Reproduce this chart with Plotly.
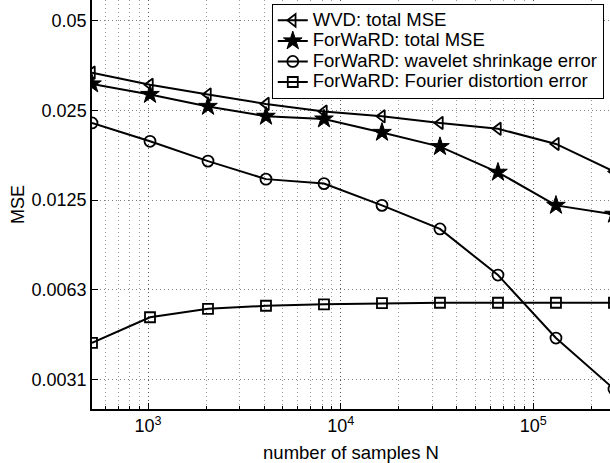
import math
import plotly.graph_objects as go

# Number of samples N (powers of two)
n_samples = [512, 1024, 2048, 4096, 8192, 16384, 32768, 65536, 131072, 262144]

# Mean squared error curves
wvd_total = [0.0335, 0.0305, 0.0283, 0.0263, 0.0248, 0.0239, 0.0227, 0.0217, 0.0193, 0.0156]
forward_total = [0.0307, 0.0283, 0.0258, 0.0239, 0.0234, 0.0211, 0.0189, 0.0155, 0.0120, 0.0112]
forward_shrinkage = [0.0227, 0.0197, 0.0169, 0.0147, 0.0142, 0.0120, 0.0100, 0.0070, 0.0043, 0.0029]
forward_fourier = [0.00414, 0.00505, 0.00539, 0.00552, 0.00558, 0.00563, 0.00565, 0.00565, 0.00565, 0.00565]

series_names = [
    "WVD: total MSE",
    "ForWaRD: total MSE",
    "ForWaRD: wavelet shrinkage error",
    "ForWaRD: Fourier distortion error",
]

# Axis ticks
y_tick_vals = [0.003125, 0.00625, 0.0125, 0.025, 0.05]
y_tick_text = ["0.0031", "0.0063", "0.0125", "0.025", "0.05"]
x_tick_vals = [1e3, 1e4, 1e5]
x_tick_text = ["10<sup>3</sup>", "10<sup>4</sup>", "10<sup>5</sup>"]
x_minor_vals = [m * 10 ** d for d in (2, 3, 4, 5) for m in range(2, 10)]

FONT = "Liberation Sans, Arial, Helvetica, sans-serif"
x_range = [math.log10(512), 5.398]
y_range = [-2.6049, -1.2309]

series = [
    (wvd_total, "triangle-left-open", 11, 1.8),
    (forward_total, "star", 14, 1.0),
    (forward_shrinkage, "circle-open", 11, 1.8),
    (forward_fourier, "square-open", 10, 1.8),
]

fig = go.Figure()
for (vals, sym, size, mlw), name in zip(series, series_names):
    fig.add_trace(go.Scatter(
        x=n_samples, y=vals, mode="lines+markers",
        # legend rows are kept tight while the label itself is drawn larger
        name=f'<span style="font-size:18.5px">{name}</span>',
        line=dict(color="black", width=2),
        marker=dict(symbol=sym, size=size, color="black",
                    line=dict(color="black", width=mlw)),
    ))

grid_dash = "1px,3px"
fig.update_layout(
    width=610, height=463,
    margin=dict(l=92, r=0, t=0, b=54),
    paper_bgcolor="white", plot_bgcolor="white",
    font=dict(family=FONT, size=18, color="black"),
    showlegend=True,
    legend=dict(
        x=0.988, y=0.990, xanchor="right", yanchor="top",
        bgcolor="white", bordercolor="black", borderwidth=1,
        font=dict(family=FONT, size=13.5, color="black"),
        tracegroupgap=0, itemwidth=30,
    ),
    xaxis=dict(
        type="log", range=x_range, automargin=False,
        tickvals=x_tick_vals, ticktext=x_tick_text,
        ticks="inside", ticklen=6, tickcolor="black", tickwidth=1,
        showline=True, linecolor="black", linewidth=1.5,
        showgrid=True, gridcolor="#555555", griddash=grid_dash, gridwidth=1,
        minor=dict(tickvals=x_minor_vals, ticks="inside", ticklen=3,
                   tickcolor="black", showgrid=True, gridcolor="#999999",
                   griddash=grid_dash, gridwidth=1),
        zeroline=False,
        title=dict(text="number of samples N", standoff=12,
                   font=dict(family=FONT, size=18.5)),
        tickfont=dict(family=FONT, size=18),
    ),
    xaxis2=dict(
        type="log", range=x_range, overlaying="x", side="top",
        tickvals=x_tick_vals, ticks="inside", ticklen=4, tickcolor="black",
        showticklabels=False, showline=False, showgrid=False, zeroline=False,
        automargin=False,
    ),
    yaxis=dict(
        type="log", range=y_range, automargin=False,
        tickvals=y_tick_vals, ticktext=y_tick_text,
        ticks="inside", ticklen=6, tickcolor="black", tickwidth=1,
        showline=True, linecolor="black", linewidth=1.5,
        showgrid=True, gridcolor="#808080", griddash=grid_dash, gridwidth=1,
        zeroline=False,
        title=dict(text="MSE", standoff=2, font=dict(family=FONT, size=18)),
        tickfont=dict(family=FONT, size=18),
    ),
)

fig.write_html("out.html")
